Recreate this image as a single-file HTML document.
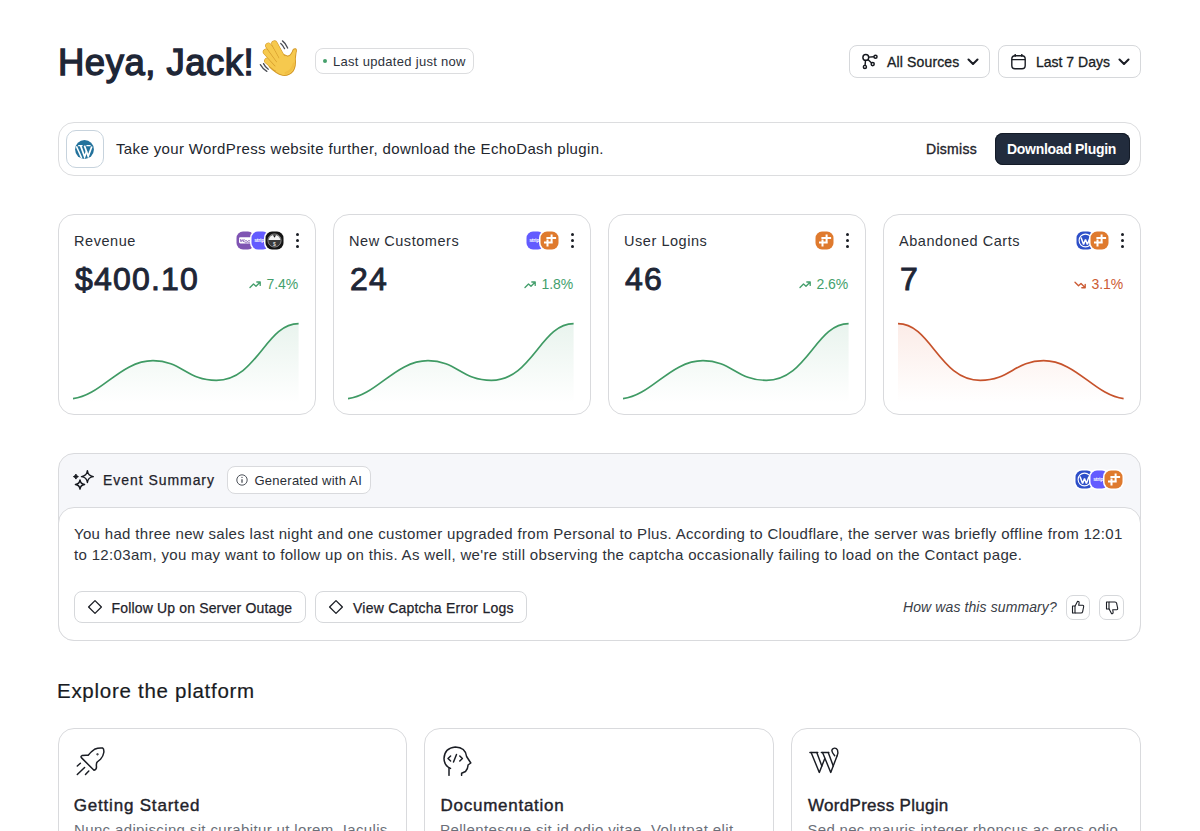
<!DOCTYPE html>
<html>
<head>
<meta charset="utf-8">
<style>
html,body{margin:0;padding:0;background:#fff;}
body{width:1200px;height:831px;overflow:hidden;position:relative;font-family:"Liberation Sans",sans-serif;color:#1f2532;}
.a{position:absolute;white-space:nowrap;line-height:1;}
.box{position:absolute;box-sizing:border-box;border:1px solid #dcdddf;background:#fff;}
svg{display:block;}
.logos{position:absolute;height:21px;}
.lg2{position:absolute;top:0;display:block;}
.lg{position:absolute;top:0;width:20px;height:20px;box-sizing:border-box;border:1.5px solid #fff;border-radius:7px;overflow:hidden;}
.dots{position:absolute;width:3px;height:15px;}
.dots i{position:absolute;left:0;width:3px;height:3px;border-radius:50%;background:#1a1d24;}

.lg.woo{background:#7f54b3;}
.lg.woo::after{content:"";position:absolute;left:2px;top:5.5px;width:12px;height:6px;border-radius:1.5px;background:#fff;}
.lg.woo::before{content:"";position:absolute;left:4px;top:7.5px;width:8px;height:2px;background:#9b7cc4;z-index:1;}
.lg.stripe{background:#635bff;}
.lg.stripe::after{content:"stripe";position:absolute;left:0;top:5px;width:17px;text-align:center;font:700 5px/7px "Liberation Sans",sans-serif;color:#fff;letter-spacing:-0.2px;}
.lg.black{background:#141414;}
.lg.black::after{content:"";position:absolute;left:2px;top:2px;width:13px;height:13px;border-radius:50%;box-sizing:border-box;border:1px solid #bbb;background:linear-gradient(#f2f2f2 0 45%,#2a2a2a 45% 100%);}
.lg.orange{background:#df7a2e;}
.lg.orange::before{content:"";position:absolute;left:4px;top:5.5px;width:10px;height:2.2px;background:#fff;box-shadow:-1px 5px 0 #fff;}
.lg.orange::after{content:"";position:absolute;left:6.5px;top:3px;width:2.2px;height:11px;background:#fff;box-shadow:4px -1px 0 #fff;}
.lg.wp{background:#2e50c8;}
.lg.wp::after{content:"W";position:absolute;left:1.5px;top:1.5px;width:14px;height:14px;box-sizing:border-box;border-radius:50%;border:1.2px solid #fff;color:#fff;font:700 10px/12px "Liberation Serif",serif;text-align:center;}
</style>
</head>
<body>

<!-- HEADER -->
<div class="a" id="title" style="left:58px;top:44.5px;font-size:36.5px;color:#1e2636;letter-spacing:0.5px;-webkit-text-stroke:1.35px #1e2636;">Heya, Jack!</div>

<!-- wave emoji -->
<svg class="a" style="left:256px;top:36px;" width="46" height="44" viewBox="0 0 869 831">
  <g fill="none" stroke="#4a4d55" stroke-width="24" stroke-linecap="round">
    <path d="M468 140 Q515 180 540 240"/>
    <path d="M500 92 Q565 140 598 228"/>
    <path d="M82 540 Q130 625 205 668"/>
    <path d="M142 522 Q175 590 232 628"/>
  </g>
  <path d="M290 440 L480 330 L600 380 Q650 375 690 290 Q700 235 745 240 Q775 250 755 320 L742 430 Q760 570 700 665 Q620 760 500 742 Q380 715 250 580 Z" fill="#f6c94e" stroke="#d49a2a" stroke-width="20"/>
  <g fill="none" stroke-linecap="round"><path d="M215 470 L370 600" stroke="#d49a2a" stroke-width="122"/><path d="M215 470 L370 600" stroke="#f6c94e" stroke-width="100"/><path d="M190 300 L390 520" stroke="#d49a2a" stroke-width="122"/><path d="M190 300 L390 520" stroke="#f6c94e" stroke-width="100"/><path d="M235 185 L430 450" stroke="#d49a2a" stroke-width="122"/><path d="M235 185 L430 450" stroke="#f6c94e" stroke-width="100"/><path d="M350 145 L490 400" stroke="#d49a2a" stroke-width="122"/><path d="M350 145 L490 400" stroke="#f6c94e" stroke-width="100"/></g>
  <path d="M480 365 L600 395 Q655 390 700 300 Q712 255 742 258 Q758 265 742 325 L728 430 Q745 570 690 655 Q615 745 505 728 Q420 712 345 625 L370 560 L410 465 Z" fill="#f6c94e"/>
  <path d="M560 700 Q680 660 715 520" fill="none" stroke="#eeb53a" stroke-width="40" stroke-linecap="round" opacity="0.5"/>
</svg>

<!-- badge -->
<div class="box" style="left:314.5px;top:48px;width:159px;height:26px;border-radius:8px;border-color:#dcdddf;"></div>
<div class="a" style="left:323px;top:59.4px;width:4px;height:4px;border-radius:50%;background:#46a06c;"></div>
<div class="a" id="badge" style="left:333px;top:55px;font-size:13px;color:#2d323b;letter-spacing:0.3px;">Last updated just now</div>

<!-- dropdown buttons -->
<div class="box" style="left:849px;top:45px;width:140.5px;height:32.5px;border-radius:8px;border-color:#d6d8db;"></div>
<svg class="a" style="left:861px;top:53px;" width="18" height="18" viewBox="0 0 18 18" fill="none" stroke="#15181e" stroke-width="1.45">
  <circle cx="4.8" cy="4.4" r="2.9"/>
  <circle cx="14.5" cy="3.7" r="1.55"/>
  <circle cx="11.7" cy="11.1" r="1.55"/>
  <circle cx="3.9" cy="13.9" r="1.55"/>
  <path d="M7.7 4.1 L12.9 3.8 M6.9 6.5 L10.6 10 M4.5 7.3 L4.1 12.3"/>
</svg>
<div class="a" style="left:887px;top:54.5px;font-size:14px;color:#1a1d24;letter-spacing:0.15px;-webkit-text-stroke:0.3px #1a1d24;">All Sources</div>
<svg class="a" style="left:967px;top:57px;" width="12" height="8" viewBox="0 0 12 8" fill="none" stroke="#1a1d24" stroke-width="2" stroke-linecap="round" stroke-linejoin="round"><path d="M1.5 2.5 L6 7 L10.5 2.5"/></svg>

<div class="box" style="left:998px;top:45px;width:142.5px;height:32.5px;border-radius:8px;border-color:#d6d8db;"></div>
<svg class="a" style="left:1010px;top:53px;" width="17" height="17" viewBox="0 0 17 17" fill="none" stroke="#1a1d24" stroke-width="1.4">
  <rect x="1.8" y="2.8" width="13.4" height="13" rx="3.2"/>
  <path d="M1.8 6.6 H15.2 M5.2 1 V3.8 M11.8 1 V3.8"/>
</svg>
<div class="a" style="left:1036px;top:54.5px;font-size:14px;color:#1a1d24;letter-spacing:0px;-webkit-text-stroke:0.3px #1a1d24;">Last 7 Days</div>
<svg class="a" style="left:1118px;top:57px;" width="12" height="8" viewBox="0 0 12 8" fill="none" stroke="#1a1d24" stroke-width="2" stroke-linecap="round" stroke-linejoin="round"><path d="M1.5 2.5 L6 7 L10.5 2.5"/></svg>

<!-- BANNER -->
<div class="box" style="left:57.5px;top:122px;width:1083px;height:54px;border-radius:16px;border-color:#dcdddf;"></div>
<div class="box" style="left:66px;top:130px;width:37.5px;height:37.5px;border-radius:10px;border-color:#c7d3dd;"></div>
<svg class="a" style="left:75px;top:139.5px;" width="19" height="19" viewBox="0 0 19 19">
  <circle cx="9.5" cy="9.5" r="9.4" fill="#23729c"/>
  <g fill="none" stroke="#fff" stroke-linejoin="miter">
    <path d="M3.2 5.6 H7.6 M11.4 5.6 H15.6" stroke-width="1.3"/>
    <path d="M1.4 6.2 L6.6 18" stroke-width="1.6"/>
    <path d="M5.6 5.6 L9.6 16.8 L11.6 11.2" stroke-width="1.7"/>
    <path d="M9.4 5.6 L13.2 16.2 L16.8 6.5" stroke-width="1.7"/>
  </g>
</svg>
<div class="a" id="bannertext" style="left:116px;top:141px;font-size:15px;color:#22262e;letter-spacing:0.36px;">Take your WordPress website further, download the EchoDash plugin.</div>
<div class="a" style="left:926px;top:142px;font-size:14px;color:#1f232b;letter-spacing:0.3px;-webkit-text-stroke:0.35px #1f232b;">Dismiss</div>
<div class="a" style="left:995px;top:132.5px;width:135px;height:32.5px;border-radius:8px;background:#222c3d;box-shadow:inset 0 0 0 1px #141b27;"></div>
<div class="a" style="left:1007px;top:142px;font-size:14px;color:#fff;font-weight:700;letter-spacing:-0.3px;">Download Plugin</div>

<!-- CARDS -->
<div class="box" style="left:57.5px;top:213.5px;width:258px;height:201.5px;border-radius:16px;border-color:#d9dadd;"></div>
<div class="a" style="left:74.0px;top:233.8px;font-size:14.5px;color:#2a2e36;letter-spacing:0.55px;">Revenue</div>
<div class="a" style="left:75.0px;top:263px;font-size:32px;color:#1e2636;letter-spacing:1.2px;-webkit-text-stroke:0.95px #1e2636;">$400.10</div>
<div class="logos" style="left:235.0px;top:229.7px;width:49.0px;">
  <svg class="lg2" style="left:0.0px;z-index:0" width="21" height="21" viewBox="0 0 21 21"><rect x="0" y="0" width="21" height="21" rx="8" fill="#fff"/><rect x="1.5" y="1.5" width="18" height="18" rx="6.5" fill="#7f54b3"/><rect x="4" y="7.2" width="13" height="6.2" rx="1.4" fill="#fff"/><path d="M5.2 9 L6 11.8 L7.2 9.6 L8.4 11.8 L9.2 9 M11 10.5 a1.2 1.2 0 1 0 0.01 0 M14 10.5 a1.2 1.2 0 1 0 0.01 0" fill="none" stroke="#7f54b3" stroke-width="0.8"/></svg>
  <svg class="lg2" style="left:14.5px;z-index:1" width="21" height="21" viewBox="0 0 21 21"><rect x="0" y="0" width="21" height="21" rx="8" fill="#fff"/><rect x="1.5" y="1.5" width="18" height="18" rx="6.5" fill="#635bff"/><text x="10.5" y="12.3" text-anchor="middle" font-family="Liberation Sans" font-weight="700" font-size="5.2" fill="#fff" letter-spacing="-0.25">stripe</text></svg>
  <svg class="lg2" style="left:29.0px;z-index:2" width="21" height="21" viewBox="0 0 21 21"><rect x="0" y="0" width="21" height="21" rx="8" fill="#fff"/><rect x="1.5" y="1.5" width="18" height="18" rx="6.5" fill="#141414"/><circle cx="10.5" cy="10.5" r="6.6" fill="#3a3a3a" stroke="#9a9a9a" stroke-width="0.8"/><path d="M4.6 10 A6 6 0 0 1 16.4 10 Z" fill="#f4f4f4"/><path d="M9 5.2 H12 L10.5 7.8 Z" fill="#141414"/><text x="10.5" y="15.8" text-anchor="middle" font-family="Liberation Sans" font-weight="700" font-size="5" fill="#ddd">$</text></svg>
</div>
<div class="dots" style="left:296.0px;top:233px;"><i style="top:0"></i><i style="top:6px"></i><i style="top:12px"></i></div>
<div class="a pct" style="right:902.0px;top:276.8px;font-size:14px;color:#449f6c;letter-spacing:-0.1px;">7.4%</div>
<svg class="a" style="left:249.0px;top:280.5px;" width="13" height="8" viewBox="0 0 13 8" fill="none" stroke="#449f6c" stroke-width="1.35" stroke-linecap="round" stroke-linejoin="round"><path d="M1 6.5 L4.5 3 L7 5.2 L11 1.2 M7.8 1 H11.2 V4.4"/></svg>
<svg class="a" style="left:73.25px;top:323px;overflow:visible" width="226" height="80" viewBox="0 0 226 80">
  <defs><linearGradient id="g0" x1="0" y1="0" x2="0" y2="1"><stop offset="0" stop-color="#48a070" stop-opacity="0.12"/><stop offset="1" stop-color="#48a070" stop-opacity="0"/></linearGradient></defs>
  <path d="M0 75.6 C28.8 72.3 47.4 37.7 80 37.7 C108.8 37.7 113.7 57.3 143.3 57.3 C184.2 57.3 192.7 0.7 225.6 0.7 V80 H0 Z" fill="url(#g0)"/>
  <path d="M0 75.6 C28.8 72.3 47.4 37.7 80 37.7 C108.8 37.7 113.7 57.3 143.3 57.3 C184.2 57.3 192.7 0.7 225.6 0.7" fill="none" stroke="#3f9a64" stroke-width="1.7"/>
</svg>
<div class="box" style="left:332.5px;top:213.5px;width:258px;height:201.5px;border-radius:16px;border-color:#d9dadd;"></div>
<div class="a" style="left:349.0px;top:233.8px;font-size:14.5px;color:#2a2e36;letter-spacing:0.55px;">New Customers</div>
<div class="a" style="left:350.0px;top:263px;font-size:32px;color:#1e2636;letter-spacing:1.2px;-webkit-text-stroke:0.95px #1e2636;">24</div>
<div class="logos" style="left:524.5px;top:229.7px;width:34.5px;">
  <svg class="lg2" style="left:0.0px;z-index:0" width="21" height="21" viewBox="0 0 21 21"><rect x="0" y="0" width="21" height="21" rx="8" fill="#fff"/><rect x="1.5" y="1.5" width="18" height="18" rx="6.5" fill="#635bff"/><text x="10.5" y="12.3" text-anchor="middle" font-family="Liberation Sans" font-weight="700" font-size="5.2" fill="#fff" letter-spacing="-0.25">stripe</text></svg>
  <svg class="lg2" style="left:14.5px;z-index:1" width="21" height="21" viewBox="0 0 21 21"><rect x="0" y="0" width="21" height="21" rx="8" fill="#fff"/><rect x="1.5" y="1.5" width="18" height="18" rx="6.5" fill="#df7a2e"/><path d="M12.6 4.6 V11.4 M7.4 8.1 H17.1 M5 12.6 H13.7 M8.5 9.6 V16.6" fill="none" stroke="#fff" stroke-width="2"/></svg>
</div>
<div class="dots" style="left:571.0px;top:233px;"><i style="top:0"></i><i style="top:6px"></i><i style="top:12px"></i></div>
<div class="a pct" style="right:627.0px;top:276.8px;font-size:14px;color:#449f6c;letter-spacing:-0.1px;">1.8%</div>
<svg class="a" style="left:524.0px;top:280.5px;" width="13" height="8" viewBox="0 0 13 8" fill="none" stroke="#449f6c" stroke-width="1.35" stroke-linecap="round" stroke-linejoin="round"><path d="M1 6.5 L4.5 3 L7 5.2 L11 1.2 M7.8 1 H11.2 V4.4"/></svg>
<svg class="a" style="left:348.25px;top:323px;overflow:visible" width="226" height="80" viewBox="0 0 226 80">
  <defs><linearGradient id="g1" x1="0" y1="0" x2="0" y2="1"><stop offset="0" stop-color="#48a070" stop-opacity="0.12"/><stop offset="1" stop-color="#48a070" stop-opacity="0"/></linearGradient></defs>
  <path d="M0 75.6 C28.8 72.3 47.4 37.7 80 37.7 C108.8 37.7 113.7 57.3 143.3 57.3 C184.2 57.3 192.7 0.7 225.6 0.7 V80 H0 Z" fill="url(#g1)"/>
  <path d="M0 75.6 C28.8 72.3 47.4 37.7 80 37.7 C108.8 37.7 113.7 57.3 143.3 57.3 C184.2 57.3 192.7 0.7 225.6 0.7" fill="none" stroke="#3f9a64" stroke-width="1.7"/>
</svg>
<div class="box" style="left:607.5px;top:213.5px;width:258px;height:201.5px;border-radius:16px;border-color:#d9dadd;"></div>
<div class="a" style="left:624.0px;top:233.8px;font-size:14.5px;color:#2a2e36;letter-spacing:0.55px;">User Logins</div>
<div class="a" style="left:625.0px;top:263px;font-size:32px;color:#1e2636;letter-spacing:1.2px;-webkit-text-stroke:0.95px #1e2636;">46</div>
<div class="logos" style="left:814.0px;top:229.7px;width:20.0px;">
  <svg class="lg2" style="left:0.0px;z-index:0" width="21" height="21" viewBox="0 0 21 21"><rect x="0" y="0" width="21" height="21" rx="8" fill="#fff"/><rect x="1.5" y="1.5" width="18" height="18" rx="6.5" fill="#df7a2e"/><path d="M12.6 4.6 V11.4 M7.4 8.1 H17.1 M5 12.6 H13.7 M8.5 9.6 V16.6" fill="none" stroke="#fff" stroke-width="2"/></svg>
</div>
<div class="dots" style="left:846.0px;top:233px;"><i style="top:0"></i><i style="top:6px"></i><i style="top:12px"></i></div>
<div class="a pct" style="right:352.0px;top:276.8px;font-size:14px;color:#449f6c;letter-spacing:-0.1px;">2.6%</div>
<svg class="a" style="left:799.0px;top:280.5px;" width="13" height="8" viewBox="0 0 13 8" fill="none" stroke="#449f6c" stroke-width="1.35" stroke-linecap="round" stroke-linejoin="round"><path d="M1 6.5 L4.5 3 L7 5.2 L11 1.2 M7.8 1 H11.2 V4.4"/></svg>
<svg class="a" style="left:623.25px;top:323px;overflow:visible" width="226" height="80" viewBox="0 0 226 80">
  <defs><linearGradient id="g2" x1="0" y1="0" x2="0" y2="1"><stop offset="0" stop-color="#48a070" stop-opacity="0.12"/><stop offset="1" stop-color="#48a070" stop-opacity="0"/></linearGradient></defs>
  <path d="M0 75.6 C28.8 72.3 47.4 37.7 80 37.7 C108.8 37.7 113.7 57.3 143.3 57.3 C184.2 57.3 192.7 0.7 225.6 0.7 V80 H0 Z" fill="url(#g2)"/>
  <path d="M0 75.6 C28.8 72.3 47.4 37.7 80 37.7 C108.8 37.7 113.7 57.3 143.3 57.3 C184.2 57.3 192.7 0.7 225.6 0.7" fill="none" stroke="#3f9a64" stroke-width="1.7"/>
</svg>
<div class="box" style="left:882.5px;top:213.5px;width:258px;height:201.5px;border-radius:16px;border-color:#d9dadd;"></div>
<div class="a" style="left:899.0px;top:233.8px;font-size:14.5px;color:#2a2e36;letter-spacing:0.55px;">Abandoned Carts</div>
<div class="a" style="left:900.0px;top:263px;font-size:32px;color:#1e2636;letter-spacing:1.2px;-webkit-text-stroke:0.95px #1e2636;">7</div>
<div class="logos" style="left:1074.5px;top:229.7px;width:34.5px;">
  <svg class="lg2" style="left:0.0px;z-index:0" width="21" height="21" viewBox="0 0 21 21"><rect x="0" y="0" width="21" height="21" rx="8" fill="#fff"/><rect x="1.5" y="1.5" width="18" height="18" rx="6.5" fill="#2e4fc8"/><circle cx="10.5" cy="10.5" r="6.4" fill="none" stroke="#fff" stroke-width="1.1"/><path d="M6 7.6 L8.6 14.6 L10.5 9.6 L12.4 14.6 L15 7.6" fill="none" stroke="#fff" stroke-width="1.5" stroke-linejoin="bevel"/></svg>
  <svg class="lg2" style="left:14.5px;z-index:1" width="21" height="21" viewBox="0 0 21 21"><rect x="0" y="0" width="21" height="21" rx="8" fill="#fff"/><rect x="1.5" y="1.5" width="18" height="18" rx="6.5" fill="#df7a2e"/><path d="M12.6 4.6 V11.4 M7.4 8.1 H17.1 M5 12.6 H13.7 M8.5 9.6 V16.6" fill="none" stroke="#fff" stroke-width="2"/></svg>
</div>
<div class="dots" style="left:1121.0px;top:233px;"><i style="top:0"></i><i style="top:6px"></i><i style="top:12px"></i></div>
<div class="a pct" style="right:77.0px;top:276.8px;font-size:14px;color:#cc5a33;letter-spacing:-0.1px;">3.1%</div>
<svg class="a" style="left:1074.0px;top:280.5px;" width="13" height="8" viewBox="0 0 13 8" fill="none" stroke="#cc5a33" stroke-width="1.35" stroke-linecap="round" stroke-linejoin="round"><path d="M1 1.2 L4.5 4.7 L7 2.5 L11 6.5 M7.8 6.7 H11.2 V3.3"/></svg>
<svg class="a" style="left:898.25px;top:323px;overflow:visible" width="226" height="80" viewBox="0 0 226 80">
  <defs><linearGradient id="g3" x1="0" y1="0" x2="0" y2="1"><stop offset="0" stop-color="#e0603a" stop-opacity="0.12"/><stop offset="1" stop-color="#e0603a" stop-opacity="0"/></linearGradient></defs>
  <path d="M0 0.7 C32.9 0.7 41.4 57.3 82.3 57.3 C111.9 57.3 116.8 37.7 145.6 37.7 C178.2 37.7 196.8 72.3 225.6 75.6 V80 H0 Z" fill="url(#g3)"/>
  <path d="M0 0.7 C32.9 0.7 41.4 57.3 82.3 57.3 C111.9 57.3 116.8 37.7 145.6 37.7 C178.2 37.7 196.8 72.3 225.6 75.6" fill="none" stroke="#c6522b" stroke-width="1.7"/>
</svg>

<!-- EVENT SUMMARY -->
<div class="box" style="left:57.5px;top:453px;width:1083px;height:187.5px;border-radius:16px;border-color:#d9dadd;background:#f6f7fa;"></div>
<div class="box" style="left:57.5px;top:507px;width:1083px;height:133.5px;border-radius:16px;border-color:#d9dadd;background:#fff;"></div>
<svg class="a" style="left:73px;top:470px;" width="22" height="21" viewBox="0 0 22 21" fill="none" stroke="#15181e" stroke-width="1.4" stroke-linejoin="round">
  <path d="M14.40 0.70 Q14.99 6.01 20.30 6.60 Q14.99 7.19 14.40 12.50 Q13.81 7.19 8.50 6.60 Q13.81 6.01 14.40 0.70 Z"/>
  <path d="M7.00 9.90 Q7.46 14.04 11.60 14.50 Q7.46 14.96 7.00 19.10 Q6.54 14.96 2.40 14.50 Q6.54 14.04 7.00 9.90 Z"/>
  <path d="M2.90 4.10 Q3.40 6.10 5.40 6.60 Q3.40 7.10 2.90 9.10 Q2.40 7.10 0.40 6.60 Q2.40 6.10 2.90 4.10 Z" fill="#15181e" stroke-width="0.9"/>
</svg>
<div class="a" style="left:103px;top:473px;font-size:14px;color:#1f232b;letter-spacing:0.95px;-webkit-text-stroke:0.25px #1f232b;">Event Summary</div>
<div class="box" style="left:227px;top:465.5px;width:143.5px;height:28.5px;border-radius:8px;border-color:#d9dadd;"></div>
<svg class="a" style="left:235.5px;top:474px;" width="12" height="12" viewBox="0 0 12 12" fill="none" stroke="#3a3f48" stroke-width="0.9"><circle cx="6" cy="6" r="5.2"/><path d="M6 5.2 V8.8" stroke-width="1.2"/><circle cx="6" cy="3.4" r="0.55" fill="#3a3f48" stroke="none"/></svg>
<div class="a" style="left:254.5px;top:473.7px;font-size:13px;color:#2a2e36;letter-spacing:0.25px;">Generated with AI</div>
<div class="logos" style="left:1074px;top:469.3px;width:51px;">
  <svg class="lg2" style="left:0;z-index:0" width="21" height="21" viewBox="0 0 21 21"><rect x="0" y="0" width="21" height="21" rx="8" fill="#fff"/><rect x="1.5" y="1.5" width="18" height="18" rx="6.5" fill="#2e4fc8"/><circle cx="10.5" cy="10.5" r="6.4" fill="none" stroke="#fff" stroke-width="1.1"/><path d="M6 7.6 L8.6 14.6 L10.5 9.6 L12.4 14.6 L15 7.6" fill="none" stroke="#fff" stroke-width="1.5" stroke-linejoin="bevel"/></svg>
  <svg class="lg2" style="left:14.5px;z-index:1" width="21" height="21" viewBox="0 0 21 21"><rect x="0" y="0" width="21" height="21" rx="8" fill="#fff"/><rect x="1.5" y="1.5" width="18" height="18" rx="6.5" fill="#635bff"/><text x="10.5" y="12.3" text-anchor="middle" font-family="Liberation Sans" font-weight="700" font-size="5.2" fill="#fff" letter-spacing="-0.25">stripe</text></svg>
  <svg class="lg2" style="left:29px;z-index:2" width="21" height="21" viewBox="0 0 21 21"><rect x="0" y="0" width="21" height="21" rx="8" fill="#fff"/><rect x="1.5" y="1.5" width="18" height="18" rx="6.5" fill="#df7a2e"/><path d="M12.6 4.6 V11.4 M7.4 8.1 H17.1 M5 12.6 H13.7 M8.5 9.6 V16.6" fill="none" stroke="#fff" stroke-width="2"/></svg>
</div>
<div class="a" style="left:74px;top:522.5px;font-size:15px;line-height:21px;color:#2e3239;letter-spacing:0.32px;">You had three new sales last night and one customer upgraded from Personal to Plus. According to Cloudflare, the server was briefly offline from 12:01</div>
<div class="a" style="left:74px;top:543.5px;font-size:15px;line-height:21px;color:#2e3239;letter-spacing:0.335px;">to 12:03am, you may want to follow up on this. As well, we're still observing the captcha occasionally failing to load on the Contact page.</div>

<div class="box" style="left:74px;top:590.5px;width:231.5px;height:32.5px;border-radius:8px;border-color:#d6d8db;"></div>
<svg class="a" style="left:87px;top:599px;" width="16" height="16" viewBox="0 0 16 16" fill="none" stroke="#1a1d24" stroke-width="1.3" stroke-linejoin="round"><path d="M8 1.6 L14.4 8 L8 14.4 L1.6 8 Z"/></svg>
<div class="a" style="left:111.5px;top:600.5px;font-size:14px;color:#1f232b;letter-spacing:0.16px;-webkit-text-stroke:0.25px #1f232b;">Follow Up on Server Outage</div>
<div class="box" style="left:315px;top:590.5px;width:211.5px;height:32.5px;border-radius:8px;border-color:#d6d8db;"></div>
<svg class="a" style="left:327.5px;top:599px;" width="16" height="16" viewBox="0 0 16 16" fill="none" stroke="#1a1d24" stroke-width="1.3" stroke-linejoin="round"><path d="M8 1.6 L14.4 8 L8 14.4 L1.6 8 Z"/></svg>
<div class="a" style="left:353px;top:600.5px;font-size:14px;color:#1f232b;letter-spacing:0.23px;-webkit-text-stroke:0.25px #1f232b;">View Captcha Error Logs</div>

<div class="a" style="left:903px;top:599.8px;font-size:14px;font-style:italic;color:#3a3e46;letter-spacing:0.1px;">How was this summary?</div>
<div class="box" style="left:1065.5px;top:595px;width:24.5px;height:24.5px;border-radius:7px;border-color:#d6d8db;"></div>
<svg class="a" style="left:1070px;top:599px;" width="16" height="16" viewBox="0 0 16 16" fill="none" stroke="#1a1d24" stroke-width="1.1" stroke-linejoin="round">
  <path d="M2.5 7 H5 V14 H2.5 Z"/>
  <path d="M5 7.2 L7.6 2.2 Q9.3 2.2 9.1 4 L8.7 6.3 H12.6 Q14 6.5 13.6 8 L12.6 12.8 Q12.3 14 11 14 H5"/>
</svg>
<div class="box" style="left:1099px;top:595px;width:24.5px;height:24.5px;border-radius:7px;border-color:#d6d8db;"></div>
<svg class="a" style="left:1103.5px;top:599.5px;" width="16" height="16" viewBox="0 0 16 16" fill="none" stroke="#1a1d24" stroke-width="1.1" stroke-linejoin="round">
  <path d="M2.5 9 H5 V2 H2.5 Z"/>
  <path d="M5 8.8 L7.6 13.8 Q9.3 13.8 9.1 12 L8.7 9.7 H12.6 Q14 9.5 13.6 8 L12.6 3.2 Q12.3 2 11 2 H5"/>
</svg>

<!-- EXPLORE -->
<div class="a" style="left:57px;top:681px;font-size:20.5px;color:#181b21;letter-spacing:0.72px;-webkit-text-stroke:0.2px #1f232b;">Explore the platform</div>

<div class="box" style="left:57.5px;top:728px;width:349.7px;height:160px;border-radius:16px;border-color:#d9dadd;"></div>
<div class="box" style="left:424px;top:728px;width:349.8px;height:160px;border-radius:16px;border-color:#d9dadd;"></div>
<div class="box" style="left:790.7px;top:728px;width:350px;height:160px;border-radius:16px;border-color:#d9dadd;"></div>

<svg class="a" style="left:76px;top:746px;" width="30" height="30" viewBox="0 0 30 30" fill="none" stroke="#1a1d24" stroke-width="1.5" stroke-linejoin="round" stroke-linecap="round">
  <path d="M5.6 11.9 Q4.2 10.5 6 9.6 Q9 9 12.2 9.3 Q15 5.5 18.5 3.3 Q22.5 1.5 26.6 2 Q28.2 2.8 27.8 6.5 Q27.2 10.5 24.5 13.2 L21.2 16 Q20 17.5 20.5 21 Q20.5 23.6 18 24.3 Z"/>
  <circle cx="21.5" cy="8.3" r="0.4" fill="#1a1d24"/>
  <path d="M1.3 20 L4.4 17.3 M1.3 28.5 L8.6 21.5 M9.5 28.5 L12.8 25.1"/>
</svg>

<svg class="a" style="left:443px;top:746px;" width="30" height="30" viewBox="0 0 30 30" fill="none" stroke="#1a1d24" stroke-width="1.5" stroke-linejoin="round" stroke-linecap="round">
  <path d="M7.5 22.4 Q1 19.5 1 12.5 Q1.5 2 12.3 1 Q22.5 1.3 23.6 10.5 L27.8 17 L25 19 Q25.2 22 22.5 25.5 L18.6 27.2 V29.3"/>
  <path d="M6 22 V29.3"/>
  <path d="M7.6 10 L5 12.5 L7.6 15 M13.5 8.5 L10.5 16 M16.8 10 L19.4 12.5 L16.8 15"/>
</svg>

<svg class="a" style="left:795px;top:735px;" width="60" height="50" viewBox="0 0 997 831" fill="none" stroke="#1a1d24" stroke-width="24" stroke-linecap="round" stroke-linejoin="round">
  <path d="M248 290 H378 M438 290 H562"/>
  <path d="M268 292 L404 622 L492 398"/>
  <path d="M362 292 L446 515"/>
  <path d="M458 292 L594 622 L700 345"/>
  <path d="M552 292 L636 515"/>
  <path d="M700 345 Q722 290 706 250 Q690 215 655 218 Q615 225 612 262 Q615 290 660 345"/>
</svg>

<div class="a" style="left:73.8px;top:797.3px;font-size:17px;color:#1f232b;letter-spacing:0.8px;-webkit-text-stroke:0.4px #1f232b;">Getting Started</div>
<div class="a" style="left:74px;top:822px;font-size:15px;color:#6b7079;letter-spacing:0.36px;">Nunc adipiscing sit curabitur ut lorem. Iaculis</div>
<div class="a" style="left:440.5px;top:797.3px;font-size:17px;color:#1f232b;letter-spacing:0.74px;-webkit-text-stroke:0.4px #1f232b;">Documentation</div>
<div class="a" style="left:440px;top:822px;font-size:15px;color:#6b7079;letter-spacing:0.39px;">Pellentesque sit id odio vitae. Volutpat elit</div>
<div class="a" style="left:808px;top:797.3px;font-size:17px;color:#1f232b;letter-spacing:0.3px;-webkit-text-stroke:0.4px #1f232b;">WordPress Plugin</div>
<div class="a" style="left:807.5px;top:822px;font-size:15px;color:#6b7079;letter-spacing:0.3px;">Sed nec mauris integer rhoncus ac eros odio</div>

</body>
</html>
